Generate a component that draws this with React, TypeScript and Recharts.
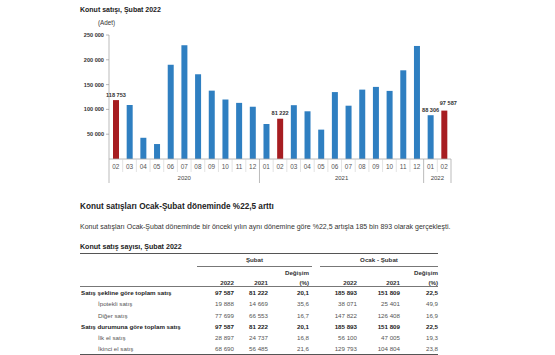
import { BarChart, Bar, XAxis, YAxis, Cell, LabelList } from "recharts";

// monthly house sales, Feb 2020 - Feb 2022
const months = [
  "02", "03", "04", "05", "06", "07", "08", "09", "10", "11", "12",
  "01", "02", "03", "04", "05", "06", "07", "08", "09", "10", "11", "12",
  "01", "02",
];
const periodYears = [
  "2020", "2020", "2020", "2020", "2020", "2020", "2020", "2020", "2020", "2020", "2020",
  "2021", "2021", "2021", "2021", "2021", "2021", "2021", "2021", "2021", "2021", "2021", "2021",
  "2022", "2022",
];
const sales = [
  118753, 108669, 42783, 30173, 190012, 229357, 170848, 137829, 119952, 113159, 105380,
  70603, 81222, 108502, 96193, 59223, 134925, 107470, 139880, 145366, 137300, 178819, 227894,
  88306, 97587,
];
const yTicks = [50000, 100000, 150000, 200000, 250000];
// bars shown in red and bars with a value label
const highlighted = [0, 12, 24];
const labeled = [0, 12, 23, 24];

// table
const rowLabels = [
  "Satış şekline göre toplam satış",
  "İpotekli satış",
  "Diğer satış",
  "Satış durumuna göre toplam satış",
  "İlk el satış",
  "İkinci el satış",
];
const totalRows = [true, false, false, true, false, false];
const subat2022 = ["97 587", "19 888", "77 699", "97 587", "28 897", "68 690"];
const subat2021 = ["81 222", "14 669", "66 553", "81 222", "24 737", "56 485"];
const subatChange = ["20,1", "35,6", "16,7", "20,1", "16,8", "21,6"];
const ocak2022 = ["185 893", "38 071", "147 822", "185 893", "56 100", "129 793"];
const ocak2021 = ["151 809", "25 401", "126 408", "151 809", "47 005", "104 804"];
const ocakChange = ["22,5", "49,9", "16,9", "22,5", "19,3", "23,8"];

const BLUE = "#2f7fc1";
const RED = "#a71d21";
const FONT = "'Liberation Sans', Arial, sans-serif";

const CHART_W = 555;
const CHART_H = 190;
const MARGIN = { top: 35, right: 104, left: 0, bottom: 6 };
const Y_AXIS_W = 109;
const X_AXIS_H = 25;
const PLOT_W = CHART_W - MARGIN.left - MARGIN.right - Y_AXIS_W;
const TABLE_FS = 6.2;

const data = months.map((m, i) => ({
  key: `${periodYears[i]}-${m}`,
  month: m,
  year: periodYears[i],
  value: sales[i],
}));

const fmt = (n: number) => String(n).replace(/\B(?=(\d{3})+(?!\d))/g, " ");

const MonthTick = (props: any) => {
  const { x, y, payload } = props;
  const i = payload.index;
  const bw = PLOT_W / data.length;
  const left = x - bw / 2;
  const right = x + bw / 2;
  const groupEnd = i === data.length - 1 || periodYears[i + 1] !== periodYears[i];
  const groupStart = i === 0 || periodYears[i - 1] !== periodYears[i];
  let yearLabel = null;
  if (groupStart) {
    const n = periodYears.filter((p) => p === periodYears[i]).length;
    yearLabel = (
      <text
        x={left + (n * bw) / 2}
        y={y + 21}
        textAnchor="middle"
        fontSize={6}
        fill="#444"
        fontFamily={FONT}
      >
        {periodYears[i]}
      </text>
    );
  }
  return (
    <g>
      <text x={x} y={y + 9.5} textAnchor="middle" fontSize={6.4} fill="#555" fontFamily={FONT}>
        {months[i]}
      </text>
      <line
        x1={right}
        x2={right}
        y1={y}
        y2={y + (groupEnd ? 24 : 13)}
        stroke={groupEnd ? "#aaa" : "#d0d0d0"}
        strokeWidth={groupEnd ? 0.8 : 0.6}
      />
      {i === 0 && <line x1={left} x2={left} y1={y} y2={y + 24} stroke="#aaa" strokeWidth={0.8} />}
      {yearLabel}
    </g>
  );
};

const ValueLabel = (props: any) => {
  const { x, y, width, value, index } = props;
  if (!labeled.includes(index)) return null;
  // lift and nudge the label when its left neighbour is labelled too
  const crowded = labeled.includes(index - 1);
  return (
    <text
      x={x + width / 2 + (crowded ? 4 : 0)}
      y={y - (crowded ? 6 : 3.5)}
      textAnchor="middle"
      fontSize={5.6}
      fontWeight="bold"
      fill="#333"
      fontFamily={FONT}
    >
      {fmt(value)}
    </text>
  );
};

const abs = (style: any) => ({ position: "absolute" as const, fontFamily: FONT, ...style });

export default function App() {
  const rowTop = 292.5;
  const rowH = 11.3;
  const cols = [
    { right: 234, vals: subat2022 },
    { right: 268, vals: subat2021 },
    { right: 309, vals: subatChange },
    { right: 357, vals: ocak2022 },
    { right: 400, vals: ocak2021 },
    { right: 438, vals: ocakChange },
  ];
  const half = TABLE_FS * 0.58;
  return (
    <div style={{ position: "absolute", left: 0, top: 0, width: 555, height: 355, background: "#fff", overflow: "hidden" }}>
      <div style={abs({ left: 80, top: 6, fontSize: 7, fontWeight: "bold", color: "#222", whiteSpace: "nowrap" })}>
        Konut satışı, Şubat 2022
      </div>
      <div style={abs({ left: 98, top: 19, fontSize: 6.3, color: "#333", whiteSpace: "nowrap" })}>(Adet)</div>

      <div style={{ position: "absolute", left: 0, top: 0 }}>
        <BarChart width={CHART_W} height={CHART_H} data={data} margin={MARGIN} barSize={6}>
          <XAxis
            dataKey="key"
            height={X_AXIS_H}
            interval={0}
            tickLine={false}
            tickSize={0}
            tickMargin={0}
            axisLine={{ stroke: "#aaa", strokeWidth: 0.8 }}
            tick={<MonthTick />}
          />
          <YAxis
            width={Y_AXIS_W}
            domain={[0, 250000]}
            ticks={yTicks}
            tickFormatter={fmt}
            tickSize={3}
            tickMargin={2}
            tickLine={{ stroke: "#888", strokeWidth: 0.6 }}
            axisLine={{ stroke: "#aaa", strokeWidth: 0.8 }}
            tick={{ fontSize: 5.6, fontWeight: "bold", fill: "#333", fontFamily: FONT }}
          />
          <Bar dataKey="value" isAnimationActive={false}>
            {data.map((d, i) => (
              <Cell key={d.key} fill={highlighted.includes(i) ? RED : BLUE} />
            ))}
            <LabelList dataKey="value" content={<ValueLabel />} />
          </Bar>
        </BarChart>
      </div>

      <div style={abs({ left: 80, top: 202.3, fontSize: 8.2, fontWeight: "bold", color: "#222", whiteSpace: "nowrap" })}>
        Konut satışları Ocak-Şubat döneminde %22,5 arttı
      </div>
      <div style={abs({ left: 80, top: 223, fontSize: 7, color: "#333", whiteSpace: "nowrap" })}>
        Konut satışları Ocak-Şubat döneminde bir önceki yılın aynı dönemine göre %22,5 artışla 185 bin 893 olarak gerçekleşti.
      </div>
      <div style={abs({ left: 80, top: 243, fontSize: 7.1, fontWeight: "bold", color: "#222", whiteSpace: "nowrap" })}>
        Konut satış sayısı, Şubat 2022
      </div>

      {/* table rules */}
      <div style={abs({ left: 80, top: 252.5, width: 358, height: 1.4, background: "#555" })} />
      <div style={abs({ left: 197, top: 265.5, width: 115, height: 0.8, background: "#777" })} />
      <div style={abs({ left: 320, top: 265.5, width: 118, height: 0.8, background: "#777" })} />
      <div style={abs({ left: 80, top: 285.5, width: 358, height: 0.8, background: "#777" })} />
      <div style={abs({ left: 80, top: 353.8, width: 358, height: 1.2, background: "#555" })} />

      {/* table headers */}
      <div style={abs({ left: 197, top: 260 - half, width: 115, textAlign: "center", fontSize: TABLE_FS, fontWeight: "bold", color: "#333" })}>
        Şubat
      </div>
      <div style={abs({ left: 320, top: 260 - half, width: 118, textAlign: "center", fontSize: TABLE_FS, fontWeight: "bold", color: "#333" })}>
        Ocak - Şubat
      </div>
      {cols.map((c, ci) => {
        const isChange = ci === 2 || ci === 5;
        const head = isChange ? "(%)" : ci % 3 === 0 ? "2022" : "2021";
        return (
          <div key={`h${ci}`}>
            {isChange && (
              <div style={abs({ left: c.right - 60, width: 60, top: 272.7 - half, textAlign: "right", fontSize: TABLE_FS, fontWeight: "bold", color: "#333" })}>
                Değişim
              </div>
            )}
            <div style={abs({ left: c.right - 60, width: 60, top: 283 - half, textAlign: "right", fontSize: TABLE_FS, fontWeight: "bold", color: "#333" })}>
              {head}
            </div>
          </div>
        );
      })}

      {/* table body */}
      {rowLabels.map((label, ri) => {
        const top = rowTop + ri * rowH - half;
        const bold = totalRows[ri];
        const color = bold ? "#222" : "#555";
        return (
          <div key={label}>
            <div style={abs({ left: bold ? 81 : 98, top, fontSize: TABLE_FS, fontWeight: bold ? "bold" : "normal", color, whiteSpace: "nowrap" })}>
              {label}
            </div>
            {cols.map((c, ci) => (
              <div
                key={ci}
                style={abs({ left: c.right - 60, width: 60, top, textAlign: "right", fontSize: TABLE_FS, fontWeight: bold ? "bold" : "normal", color })}
              >
                {c.vals[ri]}
              </div>
            ))}
          </div>
        );
      })}
    </div>
  );
}
